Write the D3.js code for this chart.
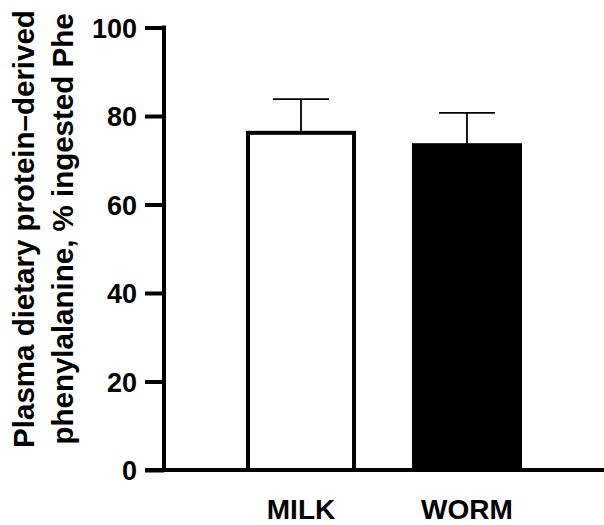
<!DOCTYPE html>
<html>
<head>
<meta charset="utf-8">
<script src="https://cdn.jsdelivr.net/npm/d3@7"></script>
<style>
  body { margin: 0; background: #fff; }
  text { font-family: Arial, "Liberation Sans", sans-serif; font-weight: bold; fill: #000; }
</style>
</head>
<body>
<div class="chart"></div>
<script>
//data
const groups = ['MILK', 'WORM'];
const means = [76.2, 73.4];
const sems = [7.6, 7.3];
const fills = ['#fff', '#000'];
const yTicks = [0, 20, 40, 60, 80, 100];
const titleLines = ['Plasma dietary protein\u2013derived', 'phenylalanine, % ingested Phe'];

const width = 604, height = 525;
const margin = {top: 27.5, right: 0, bottom: 55, left: 164};

const svg = d3.select('.chart')
    .append('svg')
    .attr('width', width)
    .attr('height', height);

//scales
const y = d3.scaleLinear()
    .domain([0, 100])
    .range([height - margin.bottom, margin.top]);

const x = d3.scaleBand()
    .domain(groups)
    .range([margin.left, width - margin.right])
    .paddingInner(0.337)
    .paddingOuter(0.494);

const data = groups.map((g, i) => ({group: g, mean: means[i], sem: sems[i], fill: fills[i]}));

//bars
svg.append('g')
    .selectAll('rect')
    .data(data)
    .enter()
    .append('rect')
    .attr('x', d => x(d.group) + 2)
    .attr('width', x.bandwidth() - 4)
    .attr('y', d => y(d.mean))
    .attr('height', d => y(0) - y(d.mean))
    .attr('fill', d => d.fill)
    .attr('stroke', '#000')
    .attr('stroke-width', 4);

//error bars (upper only)
const err = svg.append('g')
    .attr('stroke', '#000')
    .attr('stroke-width', 1.8);

err.selectAll('.stem')
    .data(data)
    .enter()
    .append('line')
    .attr('x1', d => x(d.group) + x.bandwidth() / 2)
    .attr('x2', d => x(d.group) + x.bandwidth() / 2)
    .attr('y1', d => y(d.mean))
    .attr('y2', d => y(d.mean + d.sem));

err.selectAll('.cap')
    .data(data)
    .enter()
    .append('line')
    .attr('x1', d => x(d.group) + x.bandwidth() / 2 - 28)
    .attr('x2', d => x(d.group) + x.bandwidth() / 2 + 28)
    .attr('y1', d => y(d.mean + d.sem))
    .attr('y2', d => y(d.mean + d.sem));

//y axis
const yAxis = d3.axisLeft(y)
    .tickValues(yTicks)
    .tickSizeInner(19)
    .tickSizeOuter(0)
    .tickPadding(8);

const yAxisDraw = svg.append('g')
    .attr('transform', `translate(${margin.left}, 0)`)
    .call(yAxis);

yAxisDraw.select('.domain').attr('stroke-width', 4).attr('d', `M0,${y(100) - 2}V${y(0) + 2}`);
yAxisDraw.selectAll('.tick line').attr('stroke-width', 4);
yAxisDraw.selectAll('.tick text')
    .style('font-size', '27px')
    .attr('dy', '0.36em');

//x axis, no ticks, line runs out to the tick length on the left
const xAxis = d3.axisBottom(x).tickSize(0).tickSizeOuter(0);
const xAxisDraw = svg.append('g')
    .attr('transform', `translate(0, ${y(0)})`)
    .call(xAxis);

xAxisDraw.select('.domain').attr('stroke-width', 4).attr('d', `M${margin.left - 19},0H${width}`);
xAxisDraw.selectAll('.tick text')
    .style('font-size', '28px')
    .attr('y', 49)
    .attr('dy', 0);

//y title, two lines
svg.append('g')
    .selectAll('text')
    .data(titleLines)
    .enter()
    .append('text')
    .attr('transform', (d, i) => `translate(${33.5 + i * 39}, 229) rotate(-90)`)
    .attr('text-anchor', 'middle')
    .style('font-size', '29.5px')
    .text(d => d);
</script>
</body>
</html>
